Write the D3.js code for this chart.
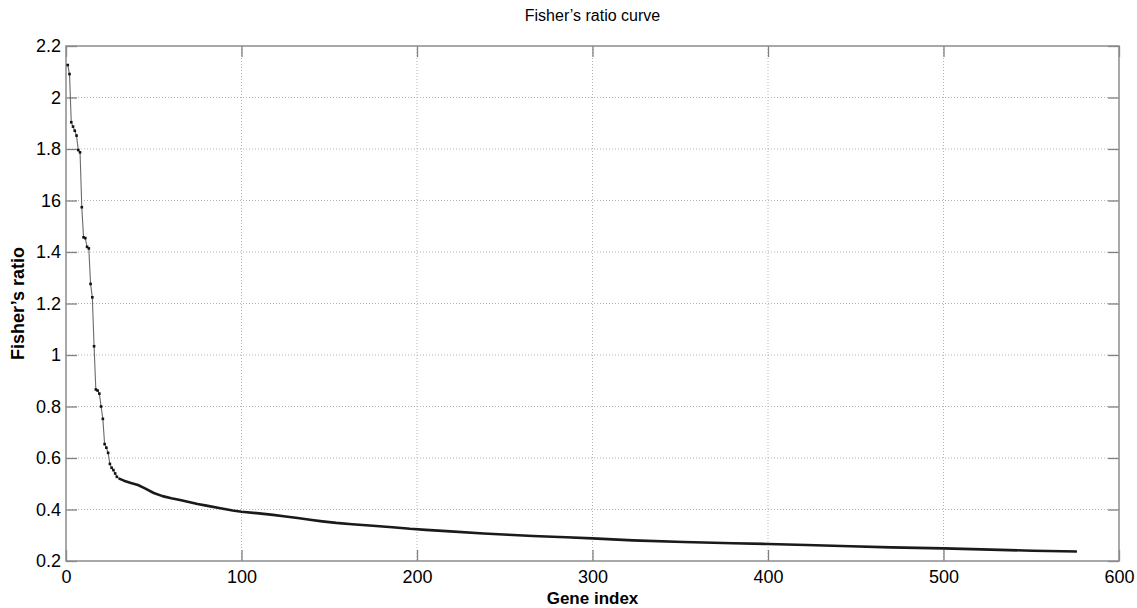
<!DOCTYPE html>
<html>
<head>
<meta charset="utf-8">
<script src="https://cdn.jsdelivr.net/npm/d3@7"></script>
<style>
  html, body { margin: 0; padding: 0; background: #fff; }
  svg { display: block; font-family: "Liberation Sans", Arial, sans-serif; }
</style>
</head>
<body>
<svg id="chart" width="1137" height="608"></svg>
<script>
// ---- data ----
const geneIndex = [1,2,3,4,5,6,7,8,9,10,11,12,13,14,15,16,17,18,19,20,21,22,23,24,25,26,27,28,29,30,
  33,37,41,45,50,55,60,65,70,75,80,88,95,100,110,118,124,132,139,146,154,163,173,186,196,205,219,238,252,266,285,300,323,352,380,400,422,447,470,500,527,551,576];
const fisherRatio = [2.126,2.091,1.904,1.887,1.871,1.852,1.796,1.787,1.574,1.457,1.454,1.420,1.414,1.276,1.224,1.034,0.866,0.862,0.850,0.800,0.752,0.654,0.640,0.620,0.577,0.562,0.553,0.540,0.527,0.521,
  0.512,0.503,0.495,0.482,0.464,0.452,0.444,0.437,0.429,0.421,0.415,0.405,0.396,0.391,0.385,0.379,0.374,0.367,0.360,0.354,0.348,0.343,0.338,0.331,0.325,0.321,0.315,0.307,0.302,0.297,0.292,0.288,0.280,0.274,0.269,0.266,0.262,0.257,0.253,0.249,0.244,0.240,0.237];
const xTickValues = [0,100,200,300,400,500,600];
const yTickValues = [0.2,0.4,0.6,0.8,1,1.2,1.4,1.6,1.8,2,2.2];
const yTickLabels = ["0.2","0.4","0.6","0.8","1","1.2","1.4","16","1.8","2","2.2"];
const titleText = "Fisher\u2019s ratio curve";
const xLabelText = "Gene index";
const yLabelText = "Fisher\u2019s ratio";

const points = geneIndex.map((g, i) => ({ g, v: fisherRatio[i] }));
const tailStart = 30;

// ---- layout ----
const L = 66, T = 46, R = 1119, B = 561;
const svg = d3.select("#chart");
const x = d3.scaleLinear().domain([0, 600]).range([L, R]);
const y = d3.scaleLinear().domain([0.2, 2.2]).range([B, T]);

// grid
const grid = svg.append("g").attr("stroke", "#b4b4b4").attr("stroke-width", 1).attr("stroke-dasharray", "1,2");
grid.selectAll("line.v").data(xTickValues.slice(1, -1)).join("line")
  .attr("x1", d => x(d)).attr("x2", d => x(d)).attr("y1", T).attr("y2", B);
grid.selectAll("line.h").data(yTickValues.slice(1, -1)).join("line")
  .attr("x1", L).attr("x2", R).attr("y1", d => y(d)).attr("y2", d => y(d));

// axes
const fontSize = 18;
const xAxis = d3.axisBottom(x).tickValues(xTickValues).tickFormat(d3.format("d")).tickSizeInner(-11).tickSizeOuter(0).tickPadding(9);
const yAxis = d3.axisLeft(y).tickValues(yTickValues).tickFormat((d, i) => yTickLabels[i]).tickSizeInner(-11).tickSizeOuter(0).tickPadding(5);
const xTop = d3.axisTop(x).tickValues(xTickValues).tickFormat("").tickSizeInner(-11).tickSizeOuter(0);
const yRight = d3.axisRight(y).tickValues(yTickValues).tickFormat("").tickSizeInner(-11).tickSizeOuter(0);

function styleAxis(g) {
  g.select(".domain").remove();
  g.selectAll(".tick line").attr("stroke", "#808080").attr("stroke-width", 1.3);
  g.selectAll(".tick text").attr("fill", "#000").attr("font-size", fontSize).attr("font-family", "Liberation Sans, Arial, sans-serif");
}
svg.append("g").attr("transform", `translate(0,${B})`).call(xAxis).call(styleAxis);
svg.append("g").attr("transform", `translate(${L},0)`).call(yAxis).call(styleAxis);
svg.append("g").attr("transform", `translate(0,${T})`).call(xTop).call(styleAxis);
svg.append("g").attr("transform", `translate(${R},0)`).call(yRight).call(styleAxis);

// frame
svg.append("rect").attr("x", L).attr("y", T).attr("width", R - L).attr("height", B - T)
  .attr("fill", "none").attr("stroke", "#8c8c8c").attr("stroke-width", 1.5);

// curve
const line = d3.line().x(d => x(d.g)).y(d => y(d.v));
svg.append("path").datum(points).attr("d", line)
  .attr("fill", "none").attr("stroke", "#6a6a6a").attr("stroke-width", 1.1);
svg.append("path").datum(points.filter(d => d.g >= tailStart)).attr("d", line)
  .attr("fill", "none").attr("stroke", "#1a1a1a").attr("stroke-width", 2.6).attr("stroke-linejoin", "round");
svg.append("g").selectAll("rect").data(points.filter(d => d.g < tailStart)).join("rect")
  .attr("x", d => x(d.g) - 1.3).attr("y", d => y(d.v) - 1.3).attr("width", 2.6).attr("height", 2.6)
  .attr("fill", "#111");

// text
svg.append("text").attr("x", (L + R) / 2).attr("y", 21).attr("text-anchor", "middle")
  .attr("font-size", 16).attr("fill", "#000").text(titleText);
svg.append("text").attr("x", (L + R) / 2).attr("y", 604).attr("text-anchor", "middle")
  .attr("font-size", 17).attr("font-weight", "bold").attr("fill", "#000").text(xLabelText);
svg.append("text").attr("transform", `translate(24,${(T + B) / 2}) rotate(-90)`).attr("text-anchor", "middle")
  .attr("font-size", 18).attr("font-weight", "bold").attr("fill", "#000").text(yLabelText);
</script>
</body>
</html>
